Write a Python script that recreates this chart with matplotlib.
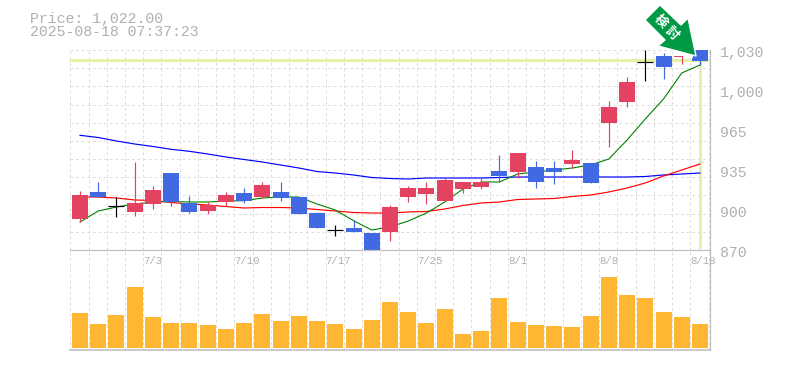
import matplotlib
matplotlib.use("Agg")
import matplotlib.pyplot as plt
from matplotlib.patches import Polygon

W, H = 785, 370

def P(y):
    # price
    return 1030 - (y - 50) * 0.8

opens_y  = [195,197,206.3,203,190,202,212,205,195,193,185,198,214,228,230,232,250.7,207,188,188,180,182,182,176,153,182,172,160,183,107,82,62,67,56,61]
closes_y = [219,192,206.3,212,204,173,203,211,202,201,197,192,197,213,230,228,233,232,197,194,201,189,187,171,172,167,168,164,163,123,102,62,56,57,50]
highs_y  = [191,182,196.7,162,186,173,196,202,192,188,182,182,197,213,225,220,233,205,186,182,177,182,177,155,153,161,161,150,163,101,77,50,53,56,50]
lows_y   = [221.7,197,216.7,216,209,206,213,214,206,203,198,201,214,228,236,232,250.7,241,202,204,201,193,189,182,178,188,184,168,183,147,107,81,79,64,65]
kinds    = ["up","down","flat","up","up","down","down","up","up","down","up","down","down","down","flat","down","down","up",
            "up","up","up","up","up","down","up","down","down","up","down","up","up","flat","down","up","down"]

opens  = [P(v) for v in opens_y]
closes = [P(v) for v in closes_y]
highs  = [P(v) for v in highs_y]
lows   = [P(v) for v in lows_y]

ma_short = [P(v) for v in [222,211,207,204,202,201.5,202,202,201,200.7,198,197,197,204,210,220.7,230,227,221,213,202,189,182,182,174,174,172,170,168,165,159,140,119,99,73,65]]
ma_short = ma_short[:24] + ma_short[25:]
ma_mid = [P(v) for v in [197,197,198,200,200.5,202.5,204,205,206.5,208,207.5,207.5,208,209.5,211,212.5,213,213,212,211.5,209,205.5,203,202,199.5,199,198.5,196.5,195,192,188,183,176,170,164]]
ma_long = [P(v) for v in [135.3,137.5,141,144,146.5,149.3,151.3,154,157,159.5,162,165,168,171.5,173,175,177.5,178.5,179,178,178,178,178,177.5,177,177,177,177,177,177,177,176.5,175,174,173]]

volumes = [35,24,33,61,31,25,25,23,19,25,34,27,32,27,24,19,28,46,36,25,39,14,17,50,26,23,22,21,32,71,53,50,36,31,24]

y_tick_labels = ["1,030", "1,000", "965", "935", "900", "870"]
date_labels = ["7/3", "7/10", "7/17", "7/25", "8/1", "8/8", "8/18"]
date_slots = [4, 9, 14, 19, 24, 29, 34]
last_price = 1022.0
title_lines = ["Price: 1,022.00", "2025-08-18 07:37:23"]
arrow_chars = ["検", "討"]

RED, BLUE, BLACK = "#e34360", "#4169e1", "#000000"
GRID, AXIS, TEXT = "#dddddd", "#c0c0c0", "#b0b0b0"
MONO = ["Liberation Mono", "DejaVu Sans Mono"]
PX = 0.72

fig = plt.figure(figsize=(W / 100, H / 100), dpi=100, facecolor="white")

def box(l, t, r, b):
    return [l / W, 1 - b / H, (r - l) / W, (b - t) / H]

L, R = 70.3, 710.0
STEP = 18.235
x0 = 80.0
xlim = ((L - x0) / STEP, (R - x0) / STEP)

ax = fig.add_axes(box(L, 50, R, 250))
vax = fig.add_axes(box(L, 250, R, 350))
for a in (ax, vax):
    a.set_xlim(*xlim)
    a.set_facecolor("none")
    a.tick_params(length=0, labelbottom=False, labelleft=False)
    for s in a.spines.values():
        s.set_visible(False)
ax.set_ylim(870, 1030)
vax.set_ylim(-2, 98)

edges = [xlim[0] + k for k in range(36)]
dash = (0, (2.8, 2.8))
for a in (ax, vax):
    for e in edges:
        a.axvline(e, color=GRID, lw=PX, ls=dash, zorder=1)
for k in range(12):
    ax.axhline(870 + k * 160 / 11, color=GRID, lw=PX, ls=dash, zorder=1)

ax.axhline(last_price, color="#e2f3a6", lw=3 * PX, zorder=2)
ax.plot([34, 34], [last_price, P(248.7)], color="#e2f3a6", lw=3 * PX, zorder=2, solid_capstyle="butt")

xs = list(range(len(opens)))
ax.plot(xs, ma_long, color="#0000ff", lw=0.85, zorder=3)
ax.plot(xs, ma_mid, color="#ff0000", lw=0.85, zorder=3)
ax.plot(xs, ma_short, color="#008000", lw=0.8, zorder=3)

HALF = 8 / STEP
colors = {"up": RED, "down": BLUE, "flat": BLACK}
for i, (o, c, h, l, k) in enumerate(zip(opens, closes, highs, lows, kinds)):
    col = colors[k]
    ax.plot([i, i], [l, h], color=col, lw=0.85, zorder=4, solid_capstyle="butt")
    if k == "flat":
        ax.plot([i - HALF, i + HALF], [o, o], color=col, lw=0.85, zorder=4, solid_capstyle="butt")
    else:
        ax.bar(i, abs(o - c), bottom=min(o, c), width=2 * HALF, color=col, lw=0, zorder=5)

vax.bar(xs, volumes, width=2 * HALF, color="#ffb733", lw=0, zorder=3)

ax.axhline(870, color=AXIS, lw=0.9, zorder=6, clip_on=False)
vax.axhline(-2, color=AXIS, lw=1.2, zorder=6, clip_on=False)
for a in (ax, vax):
    a.axvline(xlim[1], color=AXIS, lw=0.9, zorder=6, clip_on=False)

def px_text(x, y, s, size, **kw):
    fig.text(x / W, 1 - y / H, s, fontsize=size, color=TEXT, family=MONO, **kw)

px_text(30, 18.5, title_lines[0], 10.75, va="center", ha="left")
px_text(30, 32.5, title_lines[1], 10.75, va="center", ha="left")

for lab, py in zip(y_tick_labels, [50, 90, 130, 170, 210, 250]):
    px_text(720, py + 3, lab, 10.75, va="center", ha="left")
for lab, slot in zip(date_labels, date_slots):
    px_text(L + slot * STEP, 261, lab, 7.7, va="center", ha="left")

def fig_poly(pts, **kw):
    fig.add_artist(Polygon([(x / W, 1 - y / H) for x, y in pts], closed=True, transform=fig.transFigure, **kw))

fig_poly([(682.6, 52), (693, 52), (693, 58), (682.6, 58)], facecolor="white", edgecolor="none", zorder=9)
arrow_px = [(660, 5), (645, 20), (665, 40), (658, 46), (696, 56), (688, 18), (681, 25)]
fig_poly(arrow_px, facecolor="#009944", edgecolor="white", lw=1.0, joinstyle="round", zorder=10)
for ch, (cx, cy) in zip(arrow_chars, [(661, 21), (672, 33)]):
    fig.text(cx / W, 1 - cy / H, ch, rotation=-45, rotation_mode="anchor", fontsize=9.5, weight="bold",
             color="white", family=["Noto Sans CJK JP", "DejaVu Sans"], ha="center", va="center", zorder=11)

fig.savefig("out.png", dpi=100, facecolor="white")
